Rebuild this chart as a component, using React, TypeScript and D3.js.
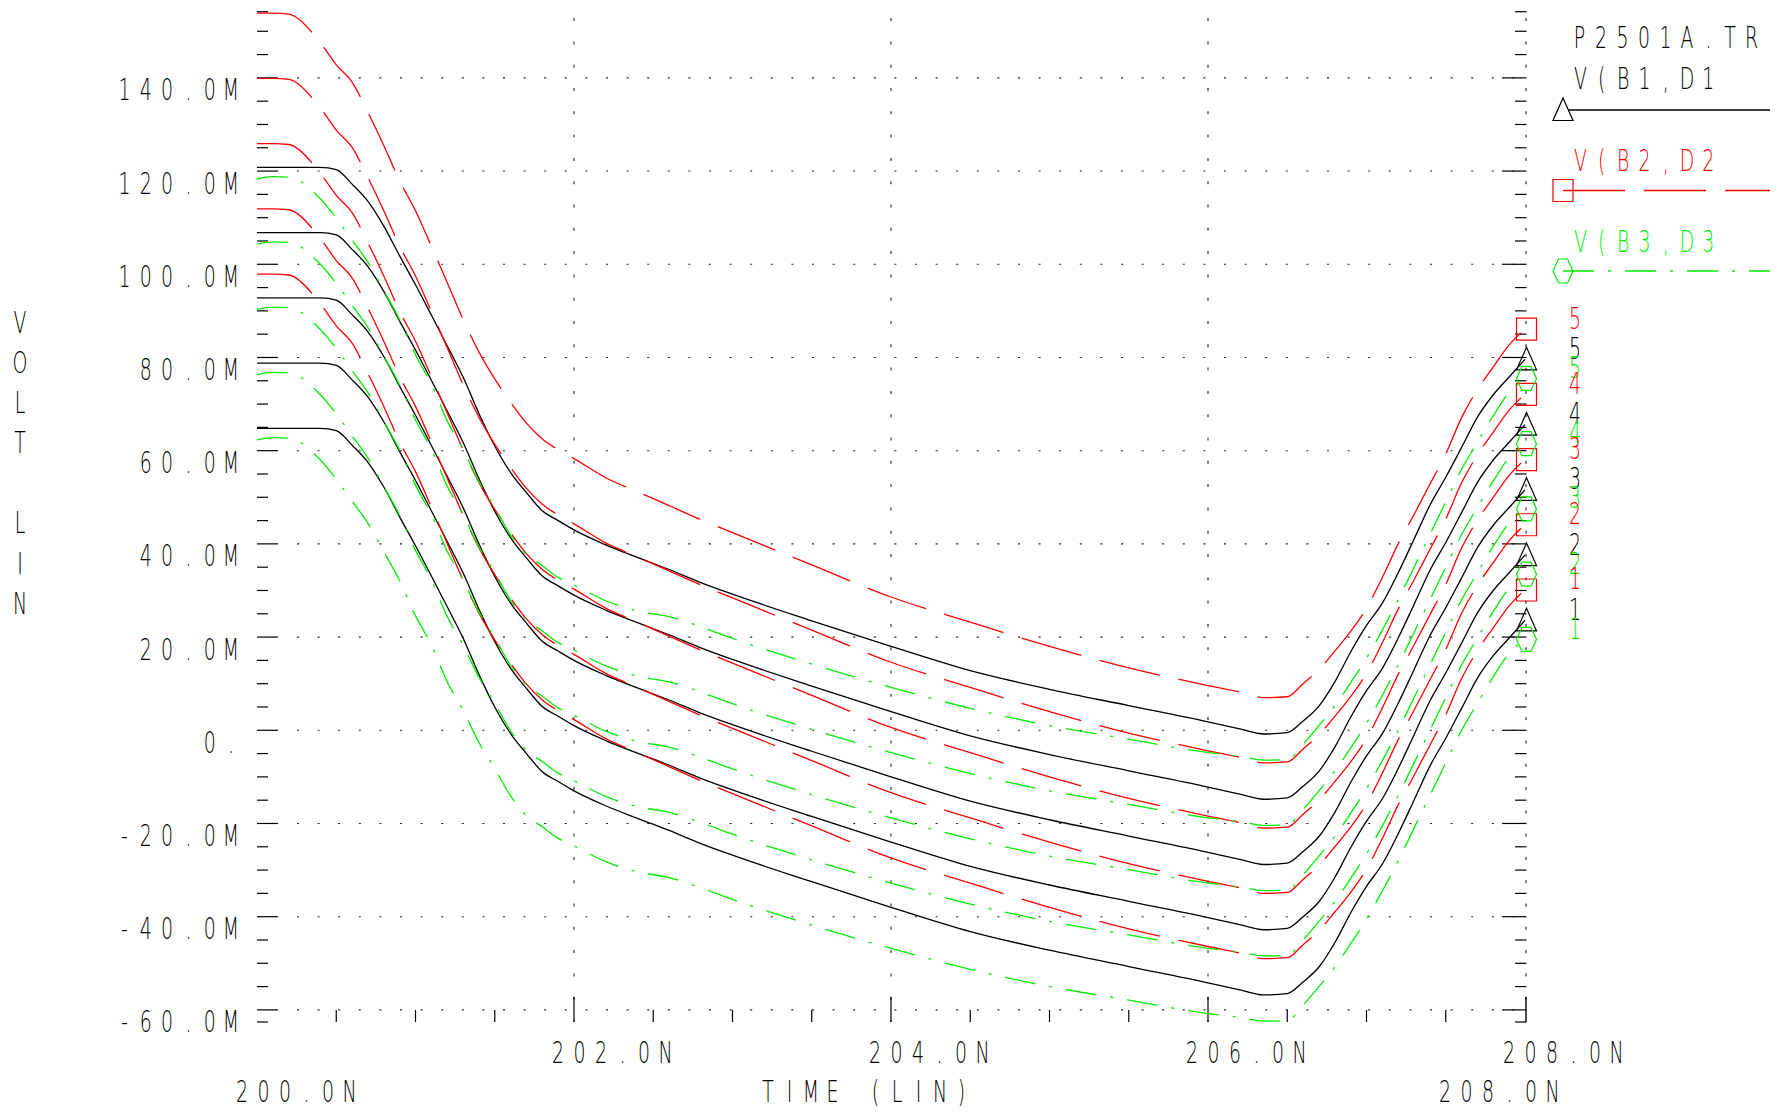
import React from 'react';
import * as d3 from 'd3';

// ---------- data ----------
const times = [200.0, 200.1, 200.2, 200.4, 200.5, 200.6, 200.7, 200.8, 200.9, 201.0, 201.1, 201.2, 201.3, 201.4, 201.5, 201.6, 201.7, 201.8, 201.9, 202.0, 202.2, 202.4, 202.6, 202.8, 203.0, 203.5, 204.0, 204.5, 205.0, 205.5, 206.0, 206.2, 206.35, 206.5, 206.6, 206.7, 206.8, 206.9, 207.0, 207.1, 207.2, 207.3, 207.4, 207.5, 207.6, 207.7, 207.8, 207.9, 208.0];

// V(B1,D1) – black, parameter runs 1..5 (mV)
const black5 = [120.8, 120.8, 120.8, 120.8, 120.3, 117.2, 113.5, 108.2, 101.8, 95.6, 89.1, 82.5, 75.8, 68.0, 61.0, 55.3, 51.0, 47.1, 45.0, 43.0, 39.8, 37.1, 34.5, 31.7, 29.2, 23.5, 18.0, 12.8, 8.8, 5.3, 1.8, 0.3, -0.8, -0.5, 2.0, 5.2, 10.4, 16.8, 22.5, 27.3, 33.8, 41.0, 48.3, 54.3, 60.7, 67.2, 72.0, 75.8, 79.6];
const black4 = [106.8, 106.8, 106.8, 106.8, 106.3, 103.2, 99.5, 94.2, 87.8, 81.6, 75.1, 68.5, 61.8, 54.0, 47.0, 41.3, 37.0, 33.1, 31.0, 29.0, 25.8, 23.1, 20.5, 17.7, 15.2, 9.5, 4.0, -1.2, -5.2, -8.7, -12.2, -13.7, -14.8, -14.5, -12.0, -8.8, -3.6, 2.8, 8.5, 13.3, 19.8, 27.0, 34.3, 40.3, 46.7, 53.2, 58.0, 61.8, 65.6];
const black3 = [92.8, 92.8, 92.8, 92.8, 92.3, 89.2, 85.5, 80.2, 73.8, 67.6, 61.1, 54.5, 47.8, 40.0, 33.0, 27.3, 23.0, 19.1, 17.0, 15.0, 11.8, 9.1, 6.5, 3.7, 1.2, -4.5, -10.0, -15.2, -19.2, -22.7, -26.2, -27.7, -28.8, -28.5, -26.0, -22.8, -17.6, -11.2, -5.5, -0.7, 5.8, 13.0, 20.3, 26.3, 32.7, 39.2, 44.0, 47.8, 51.6];
const black2 = [78.8, 78.8, 78.8, 78.8, 78.3, 75.2, 71.5, 66.2, 59.8, 53.6, 47.1, 40.5, 33.8, 26.0, 19.0, 13.3, 9.0, 5.1, 3.0, 1.0, -2.2, -4.9, -7.5, -10.3, -12.8, -18.5, -24.0, -29.2, -33.2, -36.7, -40.2, -41.7, -42.8, -42.5, -40.0, -36.8, -31.6, -25.2, -19.5, -14.7, -8.2, -1.0, 6.3, 12.3, 18.7, 25.2, 30.0, 33.8, 37.6];
const black1 = [64.8, 64.8, 64.8, 64.8, 64.3, 61.2, 57.5, 52.2, 45.8, 39.6, 33.1, 26.5, 19.8, 12.0, 5.0, -0.7, -5.0, -8.9, -11.0, -13.0, -16.2, -18.9, -21.5, -24.3, -26.8, -32.5, -38.0, -43.2, -47.2, -50.7, -54.2, -55.7, -56.8, -56.5, -54.0, -50.8, -45.6, -39.2, -33.5, -28.7, -22.2, -15.0, -7.7, -1.7, 4.7, 11.2, 16.0, 19.8, 23.6];

// V(B2,D2) – red
const red5 = [153.9, 153.9, 153.7, 147.5, 142.8, 139.1, 132.6, 125.5, 117.9, 111.5, 103.9, 96.1, 88.2, 81.2, 75.4, 70.4, 65.9, 62.5, 60.2, 58.3, 54.2, 51.2, 48.2, 45.2, 42.4, 35.5, 28.6, 23.2, 18.0, 13.4, 9.6, 8.2, 7.0, 7.2, 10.0, 13.0, 17.0, 21.2, 26.2, 32.8, 40.0, 46.3, 52.8, 59.3, 67.1, 73.1, 78.0, 82.7, 86.1];
const red4 = [139.9, 139.9, 139.7, 133.5, 128.8, 125.1, 118.6, 111.5, 103.9, 97.5, 89.9, 82.1, 74.2, 67.2, 61.4, 56.4, 51.9, 48.5, 46.2, 44.3, 40.2, 37.2, 34.2, 31.2, 28.4, 21.5, 14.6, 9.2, 4.0, -0.6, -4.4, -5.8, -7.0, -6.8, -4.0, -1.0, 3.0, 7.2, 12.2, 18.8, 26.0, 32.3, 38.8, 45.3, 53.1, 59.1, 64.0, 68.7, 72.1];
const red3 = [125.9, 125.9, 125.7, 119.5, 114.8, 111.1, 104.6, 97.5, 89.9, 83.5, 75.9, 68.1, 60.2, 53.2, 47.4, 42.4, 37.9, 34.5, 32.2, 30.3, 26.2, 23.2, 20.2, 17.2, 14.4, 7.5, 0.6, -4.8, -10.0, -14.6, -18.4, -19.8, -21.0, -20.8, -18.0, -15.0, -11.0, -6.8, -1.8, 4.8, 12.0, 18.3, 24.8, 31.3, 39.1, 45.1, 50.0, 54.7, 58.1];
const red2 = [111.9, 111.9, 111.7, 105.5, 100.8, 97.1, 90.6, 83.5, 75.9, 69.5, 61.9, 54.1, 46.2, 39.2, 33.4, 28.4, 23.9, 20.5, 18.2, 16.3, 12.2, 9.2, 6.2, 3.2, 0.4, -6.5, -13.4, -18.8, -24.0, -28.6, -32.4, -33.8, -35.0, -34.8, -32.0, -29.0, -25.0, -20.8, -15.8, -9.2, -2.0, 4.3, 10.8, 17.3, 25.1, 31.1, 36.0, 40.7, 44.1];
const red1 = [97.9, 97.9, 97.7, 91.5, 86.8, 83.1, 76.6, 69.5, 61.9, 55.5, 47.9, 40.1, 32.2, 25.2, 19.4, 14.4, 9.9, 6.5, 4.2, 2.3, -1.8, -4.8, -7.8, -10.8, -13.6, -20.5, -27.4, -32.8, -38.0, -42.6, -46.4, -47.8, -49.0, -48.8, -46.0, -43.0, -39.0, -34.8, -29.8, -23.2, -16.0, -9.7, -3.2, 3.3, 11.1, 17.1, 22.0, 26.7, 30.1];

// V(B3,D3) – green
const green5 = [118.3, 118.8, 118.7, 114.0, 109.9, 105.2, 100.4, 94.3, 88.1, 80.6, 74.3, 66.4, 60.3, 53.4, 47.8, 41.9, 37.7, 35.3, 32.8, 31.2, 27.8, 25.6, 24.4, 22.2, 19.7, 14.2, 9.2, 4.7, 1.0, -1.9, -4.8, -5.6, -6.4, -6.3, -3.0, 1.0, 5.2, 10.2, 15.5, 21.5, 28.0, 35.0, 42.0, 49.0, 56.0, 61.8, 67.5, 72.5, 75.5];
const green4 = [104.3, 104.8, 104.7, 100.0, 95.9, 91.2, 86.4, 80.3, 74.1, 66.6, 60.3, 52.4, 46.3, 39.4, 33.8, 27.9, 23.7, 21.3, 18.8, 17.2, 13.8, 11.6, 10.4, 8.2, 5.7, 0.2, -4.8, -9.3, -13.0, -15.9, -18.8, -19.6, -20.4, -20.3, -17.0, -13.0, -8.8, -3.8, 1.5, 7.5, 14.0, 21.0, 28.0, 35.0, 42.0, 47.8, 53.5, 58.5, 61.5];
const green3 = [90.3, 90.8, 90.7, 86.0, 81.9, 77.2, 72.4, 66.3, 60.1, 52.6, 46.3, 38.4, 32.3, 25.4, 19.8, 13.9, 9.7, 7.3, 4.8, 3.2, -0.2, -2.4, -3.6, -5.8, -8.3, -13.8, -18.8, -23.3, -27.0, -29.9, -32.8, -33.6, -34.4, -34.3, -31.0, -27.0, -22.8, -17.8, -12.5, -6.5, 0.0, 7.0, 14.0, 21.0, 28.0, 33.8, 39.5, 44.5, 47.5];
const green2 = [76.3, 76.8, 76.7, 72.0, 67.9, 63.2, 58.4, 52.3, 46.1, 38.6, 32.3, 24.4, 18.3, 11.4, 5.8, -0.1, -4.3, -6.7, -9.2, -10.8, -14.2, -16.4, -17.6, -19.8, -22.3, -27.8, -32.8, -37.3, -41.0, -43.9, -46.8, -47.6, -48.4, -48.3, -45.0, -41.0, -36.8, -31.8, -26.5, -20.5, -14.0, -7.0, 0.0, 7.0, 14.0, 19.8, 25.5, 30.5, 33.5];
const green1 = [62.3, 62.8, 62.7, 58.0, 53.9, 49.2, 44.4, 38.3, 32.1, 24.6, 18.3, 10.4, 4.3, -2.6, -8.2, -14.1, -18.3, -20.7, -23.2, -24.8, -28.2, -30.4, -31.6, -33.8, -36.3, -41.8, -46.8, -51.3, -55.0, -57.9, -60.8, -61.6, -62.4, -62.3, -59.0, -55.0, -50.8, -45.8, -40.5, -34.5, -28.0, -21.0, -14.0, -7.0, 0.0, 5.8, 11.5, 16.5, 19.5];

const runLabels = ['1', '2', '3', '4', '5'];
const blackRuns = [black1, black2, black3, black4, black5];
const redRuns = [red1, red2, red3, red4, red5];
const greenRuns = [green1, green2, green3, green4, green5];

const yTickValues = [140, 120, 100, 80, 60, 40, 20, 0, -20, -40, -60];
const yTickLabels = ['140.0M', '120.0M', '100.0M', '80.0M', '60.0M', '40.0M', '20.0M', '0.', '-20.0M', '-40.0M', '-60.0M'];
const xTickValues = [202, 204, 206, 208];
const xTickLabels = ['202.0N', '204.0N', '206.0N', '208.0N'];
const xDomain = [200, 208];
const yDomain = [-62.6, 154.2];
const xStartLabel = '200.0N';
const xEndLabel = '208.0N';
const xTitle = 'TIME (LIN)';
const yTitle = 'VOLT LIN';
const legendTitle = 'P2501A.TR';
const legendNames = ['V(B1,D1', 'V(B2,D2', 'V(B3,D3'];

// ---------- styling ----------
const BLACK = '#000000';
const RED = '#ff0000';
const GREEN = '#00ee00';
const FONT = "'DejaVu Sans', 'Liberation Sans', sans-serif";
const FS = 30.5;
const SX = 0.62;
const PITCH = 21.3;

function MonoText({ x0, y, text, fill = BLACK, pitch = PITCH }: { x0: number; y: number; text: string; fill?: string; pitch?: number }) {
  const chars = Array.from(text);
  return (
    <text
      transform={`scale(${SX},1)`}
      y={y}
      fontSize={FS}
      fontFamily={FONT}
      fontWeight={200}
      fill={fill}
      textAnchor="middle"
      style={{ whiteSpace: 'pre' }}
    >
      {chars.map((c, i) => (
        <tspan key={i} x={(x0 + i * pitch) / SX}>{c}</tspan>
      ))}
    </text>
  );
}

export default function App() {
  const W = 1784, H = 1112;
  const x = d3.scaleLinear().domain(xDomain).range([257, 1525]);
  const y = d3.scaleLinear().domain(yDomain).range([1022, 11.7]);
  const line = d3
    .line<number>()
    .x((_, i) => x(times[i]))
    .y((d) => y(d))
    .curve(d3.curveMonotoneX);

  const minorY = d3.range(-60, 155, 5);
  const markY = d3.range(-57.5, 154, 5);
  const minorX = d3.range(200.5, 208, 0.5);
  const x0 = x(xDomain[0]);
  const x1 = x(xDomain[1]);
  const yTop = y(yDomain[1]);
  const yBot = y(yDomain[0]);

  const tri = (cx: number, cy: number) => `M${cx},${cy - 12}L${cx + 10},${cy + 10.5}L${cx - 10},${cy + 10.5}Z`;
  const sq = (cx: number, cy: number) => `M${cx - 10},${cy - 11}h20v22h-20Z`;
  const hex = (cx: number, cy: number) => `M${cx - 10},${cy}L${cx - 4.5},${cy - 12}L${cx + 4.5},${cy - 12}L${cx + 10},${cy}L${cx + 4.5},${cy + 12}L${cx - 4.5},${cy + 12}Z`;

  const RED_DASH = '62 19';
  const GREEN_DASH = '31 14 3 14';
  const MX = 1526.5;

  const endLabels: { v: number; color: string; text: string }[] = [];
  for (let k = 4; k >= 0; k--) {
    endLabels.push({ v: redRuns[k][redRuns[k].length - 1], color: RED, text: runLabels[k] });
    endLabels.push({ v: blackRuns[k][blackRuns[k].length - 1], color: BLACK, text: runLabels[k] });
    endLabels.push({ v: greenRuns[k][greenRuns[k].length - 1], color: GREEN, text: runLabels[k] });
  }

  return (
    <svg width={W} height={H} style={{ position: 'absolute', left: 0, top: 0, background: '#fff' }}>
      <rect x={0} y={0} width={W} height={H} fill="#fff" />

      {/* dotted horizontal grid */}
      {yTickValues.map((v) => (
        <line key={'hg' + v} x1={x0 + 40} x2={x1 - 4} y1={y(v)} y2={y(v)} stroke="#222" strokeWidth={1.1} strokeDasharray="2 18.6" />
      ))}
      {/* dotted vertical grid */}
      {xTickValues.slice(0, 3).map((t) => (
        <line key={'vg' + t} x1={x(t)} x2={x(t)} y1={y(152.5) - 1.5} y2={yBot} stroke="#222" strokeWidth={1.1} strokeDasharray="3 20.3" />
      ))}

      {/* left axis ticks */}
      {minorY.map((v) => (
        <line key={'ly' + v} x1={x0} x2={v % 20 === 0 ? x0 + 21 : x0 + 11} y1={y(v)} y2={y(v)} stroke={BLACK} strokeWidth={1.2} />
      ))}
      <line x1={x0} x2={x0 + 11} y1={yTop} y2={yTop} stroke={BLACK} strokeWidth={1.2} />
      <line x1={x0} x2={x0 + 11} y1={yBot} y2={yBot} stroke={BLACK} strokeWidth={1.2} />

      {/* right axis ticks */}
      {minorY.map((v) => (
        <line key={'ry' + v} x1={v % 20 === 0 ? x1 - 23 : x1 - 10} x2={x1 + 1.5} y1={y(v)} y2={y(v)} stroke={BLACK} strokeWidth={1.2} />
      ))}
      {markY.map((v) => (
        <line key={'rm' + v} x1={x1 + 1} x2={x1 + 1} y1={y(v) - 1.5} y2={y(v) + 1.5} stroke={BLACK} strokeWidth={1} />
      ))}
      <line x1={x1 - 10} x2={x1 + 1.5} y1={yTop} y2={yTop} stroke={BLACK} strokeWidth={1.2} />
      <line x1={x1 - 10} x2={x1 + 1.5} y1={yBot} y2={yBot} stroke={BLACK} strokeWidth={1.2} />

      {/* bottom axis ticks */}
      {minorX.map((t) => (
        <line key={'bx' + t} x1={x(t)} x2={x(t)} y1={yBot} y2={Math.abs(t % 2) < 1e-6 ? yBot - 25 : yBot - 12} stroke={BLACK} strokeWidth={1.2} />
      ))}
      <line x1={x1 + 1} x2={x1 + 1} y1={yBot} y2={yBot - 25} stroke={BLACK} strokeWidth={1.4} />

      {/* curves */}
      {blackRuns.map((r, i) => (
        <path key={'b' + i} d={line(r) || ''} fill="none" stroke={BLACK} strokeWidth={1.3} />
      ))}
      {redRuns.map((r, i) => (
        <path key={'r' + i} d={line(r) || ''} fill="none" stroke={RED} strokeWidth={1.3} strokeDasharray={RED_DASH} />
      ))}
      {greenRuns.map((r, i) => (
        <path key={'g' + i} d={line(r) || ''} fill="none" stroke={GREEN} strokeWidth={1.3} strokeDasharray={GREEN_DASH} />
      ))}

      {/* end markers */}
      {redRuns.map((r, i) => (
        <path key={'rs' + i} d={sq(MX, y(r[r.length - 1]))} fill="none" stroke={RED} strokeWidth={1.2} />
      ))}
      {blackRuns.map((r, i) => (
        <path key={'bt' + i} d={tri(MX, y(r[r.length - 1]))} fill="none" stroke={BLACK} strokeWidth={1.2} />
      ))}
      {greenRuns.map((r, i) => (
        <path key={'gh' + i} d={hex(MX, y(r[r.length - 1]))} fill="none" stroke={GREEN} strokeWidth={1.2} />
      ))}
      {endLabels.map((l, i) => (
        <MonoText key={'el' + i} x0={1575} y={y(l.v) - 0.5} text={l.text} fill={l.color} />
      ))}

      {/* y tick labels */}
      {yTickValues.map((v, i) => {
        const s = yTickLabels[i];
        return <MonoText key={'yl' + v} x0={231 - (s.length - 1) * PITCH} y={y(v) + 22.5} text={s} />;
      })}
      {/* x tick labels */}
      {xTickValues.map((t, i) => (
        <MonoText key={'xl' + t} x0={x(t) - 16} y={1063} text={xTickLabels[i]} pitch={21.5} />
      ))}
      <MonoText x0={242} y={1102} text={xStartLabel} pitch={21.5} />
      <MonoText x0={768} y={1102} text={xTitle} pitch={21.5} />
      <MonoText x0={1445} y={1102} text={xEndLabel} pitch={21.5} />

      {/* y title, vertical letters */}
      <text transform={`scale(${SX},1)`} fontSize={FS} fontFamily={FONT} fontWeight={200} fill={BLACK} textAnchor="middle" style={{ whiteSpace: 'pre' }}>
        {Array.from(yTitle).map((c, i) => (
          <tspan key={i} x={20 / SX} y={333 + i * 40.1}>{c}</tspan>
        ))}
      </text>

      {/* legend */}
      <MonoText x0={1579.5} y={48} text={legendTitle} pitch={21.5} />
      <MonoText x0={1580.5} y={89} text={legendNames[0]} pitch={21.3} />
      <line x1={1563} x2={1770} y1={110} y2={110} stroke={BLACK} strokeWidth={1.3} />
      <path d={tri(1563, 110)} fill="#fff" stroke={BLACK} strokeWidth={1.2} />
      <MonoText x0={1580.5} y={171} text={legendNames[1]} fill={RED} pitch={21.3} />
      <path d={sq(1563, 190.5)} fill="none" stroke={RED} strokeWidth={1.2} />
      <line x1={1563} x2={1770} y1={190.5} y2={190.5} stroke={RED} strokeWidth={1.3} strokeDasharray={RED_DASH} />
      <MonoText x0={1580.5} y={252} text={legendNames[2]} fill={GREEN} pitch={21.3} />
      <path d={hex(1563, 271)} fill="none" stroke={GREEN} strokeWidth={1.2} />
      <line x1={1563} x2={1770} y1={271} y2={271} stroke={GREEN} strokeWidth={1.3} strokeDasharray={GREEN_DASH} />
    </svg>
  );
}
